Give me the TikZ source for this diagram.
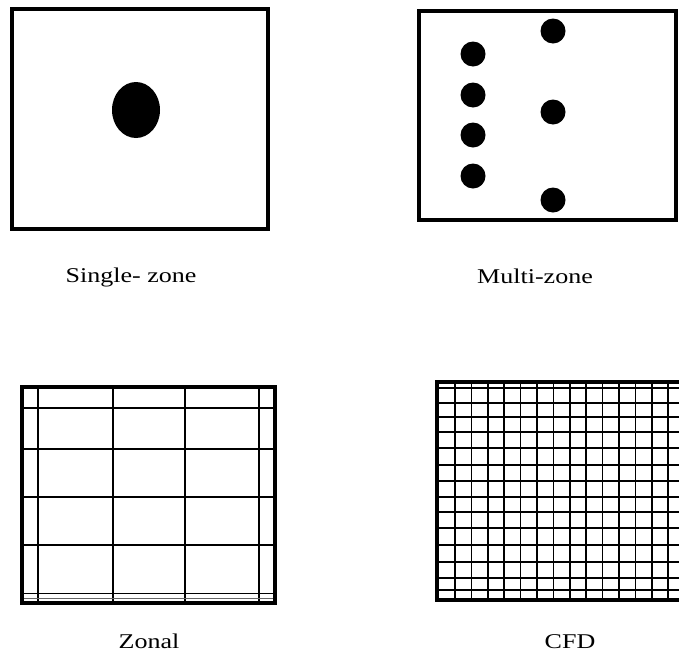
\documentclass[tikz,border=0pt]{standalone}
\usepackage{fontspec}
\setmainfont{Liberation Serif}
\tikzset{
  frame/.style={draw=black, line width=3.8pt},
  gridline/.style={draw=black, line width=1.7pt},
  dot/.style={fill=black},
  lbl/.style={inner sep=0pt, anchor=base, font=\fontsize{21}{25}\selectfont}
}
\newcommand{\wide}[1]{\scalebox{1.24}[1]{#1}}
\begin{document}
\begin{tikzpicture}[x=1pt,y=-1pt]
\useasboundingbox (0,0) rectangle (679,659);
\clip (0,0) rectangle (679,659);
% Single-zone
\draw[frame] (12,9) rectangle (268,229);
\fill[dot] (136,110) ellipse [x radius=24, y radius=28];
% Multi-zone
\draw[frame] (419,11) rectangle (676,220);
\foreach \yy in {54,95,135,176} \fill[dot] (473,\yy) circle (12.5);
\foreach \yy in {31,112,200} \fill[dot] (553,\yy) circle (12.5);
% Zonal
\foreach \xx in {38.3,112.7,185,259.3} \draw[gridline] (\xx,387) -- (\xx,603);
\foreach \yy in {408.3,449,496.7,545,593.5} \draw[gridline] (22,\yy) -- (275,\yy);
\draw[draw=black!60, line width=1.2pt] (22,598.5) -- (275,598.5);
\draw[frame] (22,387) rectangle (275,603);
% CFD
\foreach \k in {0,...,14} \draw[gridline] ({455+16.4*\k},382) -- ({455+16.4*\k},600);
\foreach \yy in {388,403,417,432,448,465,481,497,512,528,545,562,578,590} \draw[gridline] (437,\yy) -- (682,\yy);
\draw[frame] (437,382) rectangle (683,600);
% Labels
\node[lbl] (single) at (131,282) {\wide{Single- zone}};
\node[lbl] (multi) at (535,283) {\wide{Multi-zone}};
\node[lbl] (zonal) at (149,648) {\wide{Zonal}};
\node[lbl] (cfd) at (570,648) {\wide{CFD}};
\end{tikzpicture}
\end{document}
